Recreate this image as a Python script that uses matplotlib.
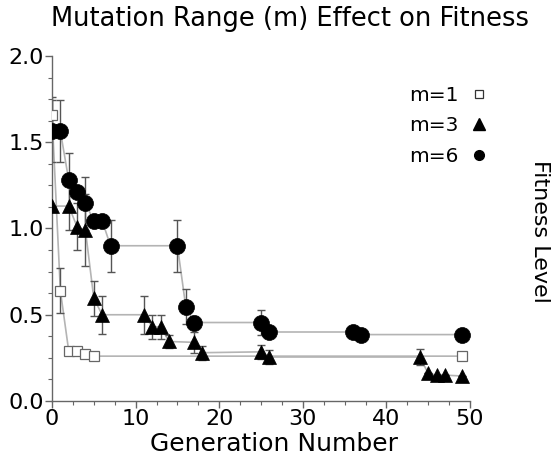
import numpy as np
import matplotlib
matplotlib.use("Agg")
import matplotlib.pyplot as plt
from matplotlib.lines import Line2D
from matplotlib.ticker import MultipleLocator, FormatStrFormatter

# ── Data ──────────────────────────────────────────────────────────────────────
gen_m1 = [0, 1, 2, 3, 4, 5, 49]
fit_m1 = [1.66, 0.64, 0.29, 0.29, 0.275, 0.26, 0.26]
err_m1 = [0.10, 0.13, 0.01, 0.01, 0.01, 0.01, 0.01]

gen_m3 = [0, 2, 3, 4, 5, 6, 11, 12, 13, 14, 17, 18, 25, 26, 44, 45, 46, 47, 49]
fit_m3 = [1.13, 1.13, 1.01, 0.99, 0.595, 0.50, 0.50, 0.43, 0.43, 0.345, 0.34,
          0.28, 0.285, 0.255, 0.255, 0.16, 0.15, 0.15, 0.145]
err_m3 = [0.0, 0.14, 0.135, 0.21, 0.10, 0.11, 0.11, 0.07, 0.07, 0.04, 0.06,
          0.04, 0.04, 0.04, 0.045, 0.0, 0.0, 0.0, 0.0]

gen_m6 = [0, 1, 2, 3, 4, 5, 6, 7, 15, 16, 17, 25, 26, 36, 37, 49]
fit_m6 = [1.565, 1.565, 1.28, 1.21, 1.145, 1.045, 1.045, 0.90, 0.90, 0.547,
          0.455, 0.455, 0.40, 0.40, 0.385, 0.385]
err_m6 = [0.18, 0.18, 0.16, 0.0, 0.155, 0.0, 0.0, 0.15, 0.15, 0.10, 0.04,
          0.07, 0.03, 0.03, 0.03, 0.03]

labels = ["m=1", "m=3", "m=6"]

fig = plt.figure(figsize=(5.56, 4.63), dpi=100)
ax = fig.add_axes([52 / 556, 1 - 401 / 463, 418 / 556, 345 / 463])

line_c = "#b4b4b4"
err_c = "#555555"

series = [
    (gen_m1, fit_m1, err_m1, dict(marker="s", ms=7.5, mfc="white", mec="#666666", mew=0.9)),
    (gen_m3, fit_m3, err_m3, dict(marker="^", ms=9.5, mfc="black", mec="black", mew=0.5)),
    (gen_m6, fit_m6, err_m6, dict(marker="o", ms=11.5, mfc="black", mec="black", mew=0.5)),
]

for x, y, e, mk in series:
    ax.plot(x, y, color=line_c, lw=1.2, zorder=1)
    ax.errorbar(x, y, yerr=e, fmt="none", ecolor=err_c, elinewidth=1.0,
                capsize=3, capthick=1.0, zorder=2)
for x, y, e, mk in series:
    ax.plot(x, y, linestyle="none", zorder=3, **mk)

ax.set_xlim(0, 50)
ax.set_ylim(0, 2.0)
ax.xaxis.set_major_locator(MultipleLocator(10))
ax.xaxis.set_minor_locator(MultipleLocator(2.5))
ax.yaxis.set_major_locator(MultipleLocator(0.5))
ax.yaxis.set_minor_locator(MultipleLocator(0.125))
ax.yaxis.set_major_formatter(FormatStrFormatter("%.1f"))

for side in ("top", "right"):
    ax.spines[side].set_visible(False)
for side in ("left", "bottom"):
    ax.spines[side].set_color("#666666")
    ax.spines[side].set_linewidth(1.0)

ax.tick_params(which="major", direction="out", length=5, width=1.0,
               color="#666666", labelsize=16, pad=1)
ax.tick_params(which="minor", direction="out", length=3, width=0.8,
               color="#666666")

fig.text(0.493, 0.040, "Generation Number", fontsize=18, ha="center", va="center")
fig.text(0.972, 0.50, "Fitness Level", rotation=-90, fontsize=16,
         ha="center", va="center")
fig.text(0.522, 0.958, "Mutation Range (m) Effect on Fitness", fontsize=18.5,
         ha="center", va="center")

handles = [
    Line2D([], [], linestyle="none", marker="s", ms=6, mfc="white", mec="#333333", mew=0.9),
    Line2D([], [], linestyle="none", marker="^", ms=8, mfc="black", mec="black"),
    Line2D([], [], linestyle="none", marker="o", ms=7, mfc="black", mec="black"),
]
ax.legend(handles, labels, loc="upper right", bbox_to_anchor=(1.084, 0.965),
          frameon=False, markerfirst=False, fontsize=14.5, handlelength=0.8,
          handletextpad=0.6, labelspacing=0.56)

fig.savefig("out.png", dpi=100)
